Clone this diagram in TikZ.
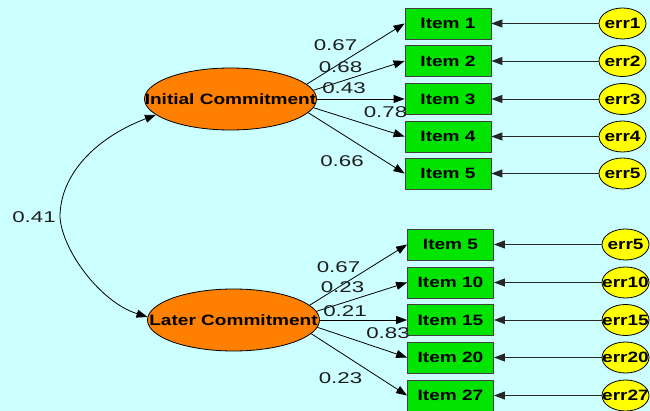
\documentclass[tikz,border=0pt]{standalone}
\usepackage{fontspec}
\setmainfont{Liberation Sans}
\usepackage{graphicx}
\usetikzlibrary{shapes.geometric,arrows.meta}

\definecolor{bgcyan}{HTML}{CCFFFF}
\definecolor{itemgreen}{HTML}{00E400}
\definecolor{latentorange}{HTML}{FF8000}
\definecolor{erryellow}{HTML}{FFFF00}
\definecolor{coefgray}{HTML}{1E1E1E}

% widened Arial-like lettering
\newcommand{\wtext}[1]{\scalebox{1.27}[1]{#1}}
\newcommand{\wnum}[1]{\scalebox{1.43}[1]{#1}}

\begin{document}
\begin{tikzpicture}[x=1pt,y=-1pt,
  every node/.style={inner sep=0pt},
  itembox/.style={draw=black!75, line width=0.8pt, fill=itemgreen,
    minimum width=86pt, minimum height=31pt,
    font=\fontsize{15}{18}\selectfont\bfseries},
  errnode/.style={ellipse, draw=black, line width=0.8pt, fill=erryellow,
    minimum width=47pt, minimum height=31pt},
  errtext/.style={font=\fontsize{15}{18}\selectfont\bfseries},
  latent/.style={ellipse, draw=black, line width=0.8pt, fill=latentorange,
    minimum width=172pt, minimum height=62pt},
  latenttext/.style={font=\fontsize{15}{18}\selectfont\bfseries},
  coef/.style={text=coefgray, font=\fontsize{15.6}{18}\selectfont},
  load/.style={line width=0.8pt, -{Triangle[length=11pt,width=8pt]}},
  errarrow/.style={line width=0.9pt, draw=black!85, -{Triangle[length=11pt,width=8pt]}},
  cov/.style={line width=0.8pt, {Triangle[length=11pt,width=8pt]}-{Triangle[length=11pt,width=8pt]}}
]
\useasboundingbox (0,0) rectangle (650,411);
\fill[bgcyan] (0,0) rectangle (650,411);

% latent variables
\node[latent] (ic) at (230.5,99) {};
\node[latenttext] (ict) at (ic) {\wtext{Initial Commitment}};
\node[latent] (lc) at (233.5,320) {};
\node[latenttext] (lct) at (lc) {\wtext{Later Commitment}};

% indicators of the first factor
\foreach \n/\lab/\y in {i1/Item 1/23.5, i2/Item 2/61, i3/Item 3/99, i4/Item 4/136.5, i5/Item 5/173.5}
  \node[itembox] (\n) at (448,\y) {\wtext{\lab}};
\foreach \n/\lab/\y in {e1/err1/23.5, e2/err2/61, e3/err3/99, e4/err4/136.5, e5/err5/173.5}{
  \node[errnode] (\n) at (622.5,\y) {};
  \node[errtext] (\n t) at (\n) {\wtext{\lab}};
}

% indicators of the second factor
\foreach \n/\lab/\y in {j1/Item 5/244.5, j2/Item 10/282.5, j3/Item 15/320, j4/Item 20/357.5, j5/Item 27/395.5}
  \node[itembox] (\n) at (450.5,\y) {\wtext{\lab}};
\foreach \n/\lab/\y in {f1/err5/244.5, f2/err10/282.5, f3/err15/320, f4/err20/357.5, f5/err27/395.5}{
  \node[errnode] (\n) at (625.5,\y) {};
  \node[errtext] (\n t) at (\n) {\wtext{\lab}};
}

% loadings, leaving the right end of each factor
\foreach \n/\a in {i1/11,i2/6,i3/0,i4/354.5,i5/350}
  \draw[load] (ic.\a) -- (\n.west);
\foreach \n/\a in {j1/11.5,j2/6,j3/0,j4/355,j5/350.5}
  \draw[load] (lc.\a) -- (\n.west);

% error terms
\foreach \a/\b in {e1/i1,e2/i2,e3/i3,e4/i4,e5/i5,f1/j1,f2/j2,f3/j3,f4/j4,f5/j5}
  \draw[errarrow] (\a.west) -- (\b.east);

% factor covariance
\coordinate (covmid) at (60,217);
\draw[cov] (ic.192) .. controls (95,138) and (60,175) .. (covmid)
  .. controls (62,250) and (100,302) .. (lc.178);
\node[coef] (c0) at (34,217) {\wnum{0.41}};

% coefficient labels
\node[coef] (c1) at (335.5,45) {\wnum{0.67}};
\node[coef] (c2) at (340.5,67) {\wnum{0.68}};
\node[coef] (c3) at (344,88.5) {\wnum{0.43}};
\node[coef] (c4) at (385.5,112) {\wnum{0.78}};
\node[coef] (c5) at (342,161) {\wnum{0.66}};

\node[coef] (d1) at (338.5,267) {\wnum{0.67}};
\node[coef] (d2) at (342.5,287) {\wnum{0.23}};
\node[coef] (d3) at (345,311) {\wnum{0.21}};
\node[coef] (d4) at (388,333) {\wnum{0.83}};
\node[coef] (d5) at (340.5,378) {\wnum{0.23}};
\end{tikzpicture}
\end{document}
